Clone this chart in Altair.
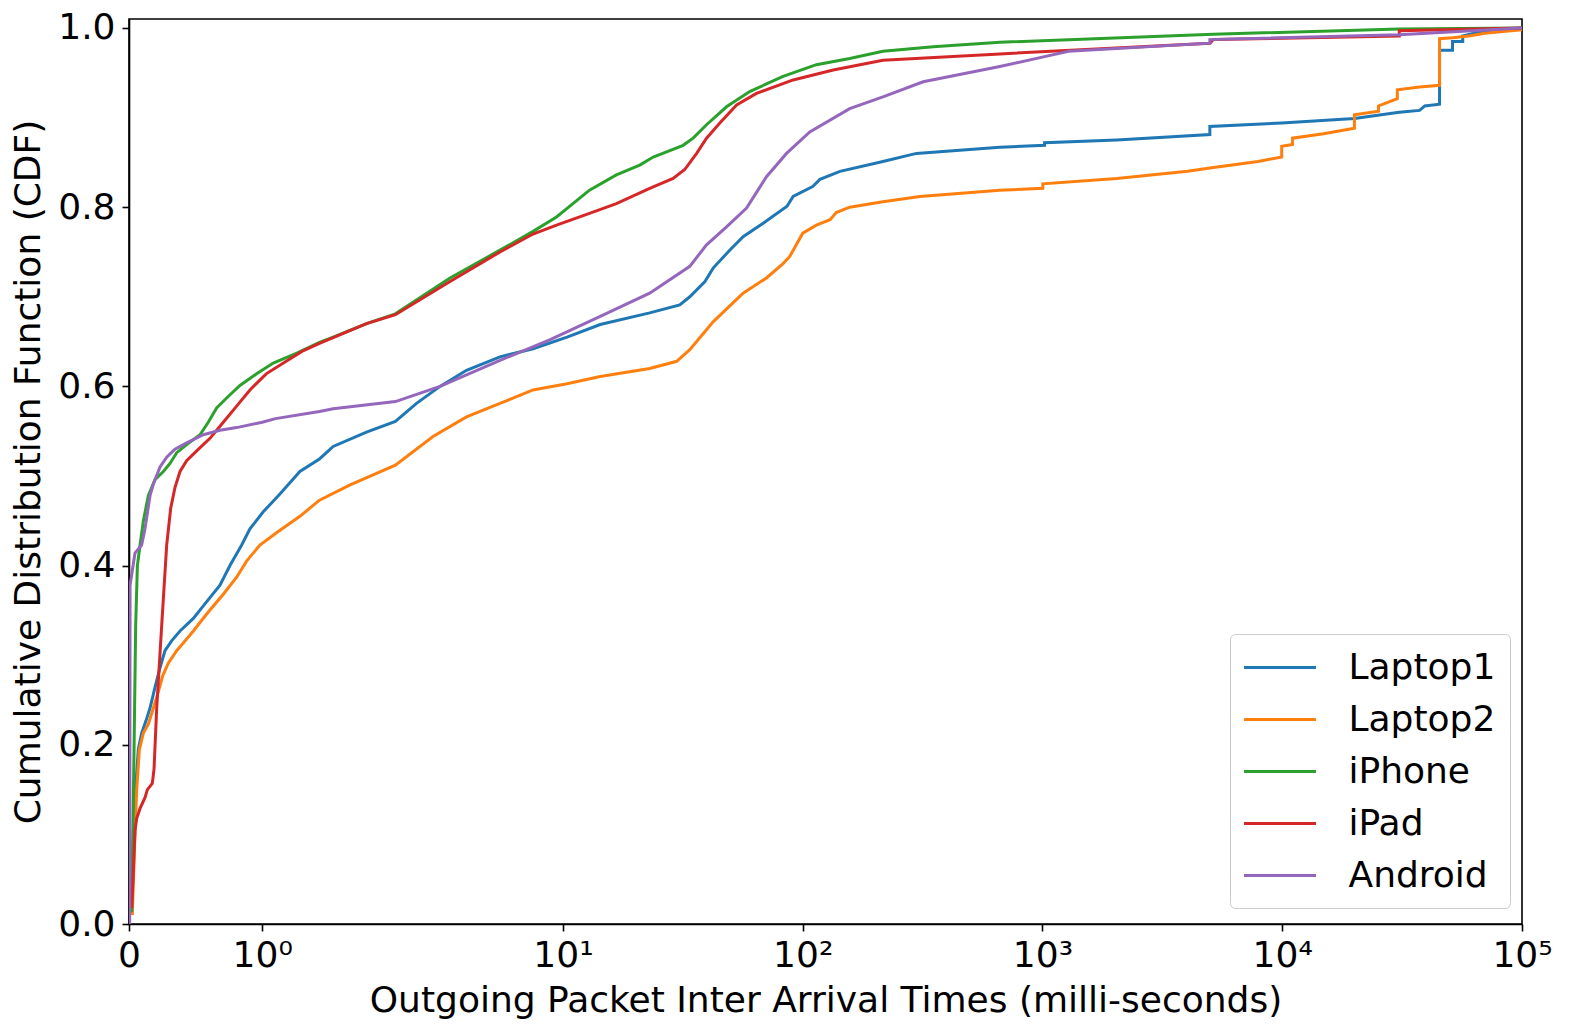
import math
import altair as alt
import pandas as pd

# ---------------- data ----------------
series_names = ["Laptop1", "Laptop2", "iPhone", "iPad", "Android"]
series_colors = ["#1f77b4", "#ff7f0e", "#2ca02c", "#d62728", "#9467bd"]

laptop1_x = [0.02, 0.033, 0.053, 0.07, 0.095, 0.128, 0.158, 0.195, 0.233, 0.27,
             0.32, 0.383, 0.483, 0.558, 0.683, 0.758, 0.846, 0.908, 1.008, 1.133,
             1.283, 1.43, 1.533, 1.783, 2.0, 2.45, 3.07, 3.96, 5.46, 7.5,
             10.4, 14.3, 23.0, 30.7, 33.8, 39.1, 42.3, 49.6, 56.4, 68.4,
             86.0, 91.2, 110, 118, 143, 216, 298, 664, 1020, 1020,
             2040, 4990, 4990, 9950, 20000, 30760, 37400, 39300, 45300, 45300,
             51300, 51300, 56600, 56600, 67900, 100000]
laptop1_y = [0.013, 0.104, 0.159, 0.195, 0.213, 0.227, 0.241, 0.264, 0.286, 0.305,
             0.316, 0.327, 0.341, 0.355, 0.378, 0.400, 0.423, 0.441, 0.460, 0.480,
             0.505, 0.519, 0.533, 0.549, 0.561, 0.581, 0.600, 0.618, 0.633, 0.642,
             0.655, 0.669, 0.682, 0.691, 0.700, 0.717, 0.732, 0.752, 0.767, 0.782,
             0.801, 0.812, 0.823, 0.831, 0.840, 0.851, 0.860, 0.867, 0.869, 0.872,
             0.875, 0.881, 0.890, 0.894, 0.899, 0.906, 0.908, 0.913, 0.915, 0.975,
             0.975, 0.985, 0.985, 0.991, 0.996, 1.0]

laptop2_x = [0.025, 0.04, 0.058, 0.078, 0.108, 0.145, 0.183, 0.22, 0.253, 0.295,
             0.358, 0.433, 0.483, 0.583, 0.708, 0.808, 0.883, 0.983, 1.11, 1.283,
             1.43, 1.66, 2.0, 2.87, 3.96, 5.46, 7.5, 10.4, 14.3, 23.0,
             29.8, 33.8, 42.3, 56.4, 70.6, 82.8, 88.3, 100, 114, 130,
             138, 157, 216, 308, 664, 1003, 1003, 2040, 4030, 5070,
             7930, 9950, 9950, 11040, 11040, 14860, 20000, 20000, 25200, 25200,
             30200, 30200, 37400, 45300, 45300, 51300, 60000, 70000, 100000]
laptop2_y = [0.010, 0.080, 0.150, 0.195, 0.213, 0.223, 0.241, 0.259, 0.277, 0.291,
             0.305, 0.318, 0.327, 0.346, 0.368, 0.387, 0.405, 0.423, 0.437, 0.455,
             0.473, 0.490, 0.512, 0.544, 0.566, 0.581, 0.596, 0.603, 0.611, 0.620,
             0.628, 0.641, 0.672, 0.704, 0.721, 0.737, 0.745, 0.771, 0.780, 0.786,
             0.794, 0.800, 0.806, 0.812, 0.819, 0.821, 0.826, 0.832, 0.840, 0.844,
             0.851, 0.856, 0.868, 0.870, 0.877, 0.882, 0.888, 0.903, 0.907, 0.913,
             0.921, 0.931, 0.934, 0.936, 0.988, 0.989, 0.991, 0.994, 0.998]

iphone_x = [0.02, 0.038, 0.05, 0.063, 0.083, 0.108, 0.145, 0.195, 0.258, 0.308,
            0.358, 0.433, 0.533, 0.595, 0.658, 0.733, 0.833, 0.958, 1.083, 1.26,
            1.43, 1.533, 1.783, 2.0, 3.38, 5.46, 7.5, 9.4, 12.9, 16.7,
            20.9, 23.8, 31.7, 34.9, 39.7, 48.1, 60.1, 82.8, 114, 157,
            216, 350, 664, 5152, 30760, 100000]
iphone_y = [0.013, 0.195, 0.332, 0.400, 0.423, 0.450, 0.478, 0.496, 0.505, 0.514,
            0.526, 0.535, 0.546, 0.560, 0.576, 0.587, 0.601, 0.614, 0.626, 0.637,
            0.649, 0.655, 0.670, 0.681, 0.721, 0.752, 0.773, 0.789, 0.819, 0.836,
            0.847, 0.856, 0.869, 0.877, 0.892, 0.912, 0.929, 0.946, 0.959, 0.966,
            0.974, 0.979, 0.984, 0.993, 0.9988, 1.0]

ipad_x = [0.02, 0.033, 0.045, 0.058, 0.083, 0.12, 0.138, 0.175, 0.188, 0.208,
          0.245, 0.283, 0.313, 0.345, 0.383, 0.433, 0.508, 0.608, 0.708, 0.808,
          0.908, 1.03, 1.18, 1.31, 1.43, 1.783, 2.0, 3.38, 5.46, 7.5,
          9.4, 12.9, 16.7, 23.0, 28.8, 32.2, 36.1, 39.7, 45.1, 53.0,
          64.1, 91.2, 134, 216, 664, 5000, 5152, 30760, 30760, 100000]
ipad_y = [0.018, 0.059, 0.104, 0.118, 0.129, 0.141, 0.150, 0.157, 0.173, 0.241,
          0.332, 0.423, 0.464, 0.487, 0.505, 0.517, 0.528, 0.542, 0.560, 0.578,
          0.596, 0.614, 0.628, 0.640, 0.648, 0.670, 0.680, 0.717, 0.750, 0.770,
          0.780, 0.793, 0.804, 0.821, 0.832, 0.842, 0.860, 0.877, 0.894, 0.914,
          0.927, 0.942, 0.953, 0.964, 0.971, 0.983, 0.987, 0.991, 0.997, 1.0]

android_x = [0.005, 0.008, 0.045, 0.095, 0.12, 0.158, 0.183, 0.233, 0.283, 0.345,
             0.433, 0.558, 0.683, 0.808, 1.0, 1.1, 1.43, 1.533, 2.0, 3.07,
             5.46, 8.8, 14.3, 23.0, 33.8, 39.7, 48.1, 58.3, 70.6, 85.6,
             107, 157, 216, 318, 664, 1020, 1285, 4990, 4990, 30760,
             100000]
android_y = [0.0, 0.378, 0.414, 0.423, 0.441, 0.478, 0.491, 0.510, 0.521, 0.530,
             0.537, 0.546, 0.551, 0.554, 0.560, 0.564, 0.572, 0.575, 0.583, 0.600,
             0.629, 0.652, 0.678, 0.704, 0.734, 0.758, 0.778, 0.799, 0.834, 0.860,
             0.884, 0.910, 0.923, 0.940, 0.957, 0.968, 0.974, 0.983, 0.987, 0.9925,
             1.0]

x_tick_values = [0, 1, 10, 100, 1000, 10000, 100000]
x_tick_labels = ["0", "10⁰", "10¹", "10²", "10³", "10⁴", "10⁵"]
y_tick_values = [0.0, 0.2, 0.4, 0.6, 0.8, 1.0]

# ---------------- symmetric-log axis (linthresh 2, linscale 1) ----------------
LINTHRESH = 2.0
LIN_ADJ = 1.0 / (1.0 - 1.0 / 10.0)


def symlog(v):
    if v <= LINTHRESH:
        return v * LIN_ADJ
    return LINTHRESH * (LIN_ADJ + math.log10(v / LINTHRESH))


symlog_expr = (f"datum.x <= {LINTHRESH} ? datum.x * {LIN_ADJ} : "
               f"{LINTHRESH} * ({LIN_ADJ} + log(datum.x / {LINTHRESH}) / LN10)")

tick_pos = [symlog(v) for v in x_tick_values]
label_expr = " : ".join(
    f"abs(datum.value - {p:.6f}) < 0.001 ? '{lab}'" for p, lab in zip(tick_pos, x_tick_labels)
) + " : ''"

series = [
    (series_names[0], laptop1_x, laptop1_y),
    (series_names[1], laptop2_x, laptop2_y),
    (series_names[2], iphone_x, iphone_y),
    (series_names[3], ipad_x, ipad_y),
    (series_names[4], android_x, android_y),
]
rows = []
for name, xs, ys in series:
    for i, (xv, yv) in enumerate(zip(xs, ys)):
        rows.append({"device": name, "x": xv, "cdf": yv, "i": i})
df = pd.DataFrame(rows)

FONT = "DejaVu Sans"
FS = 36

chart = alt.Chart(df).transform_calculate(
    xt=symlog_expr
).mark_line(strokeWidth=3, clip=True).encode(
    x=alt.X("xt:Q",
            scale=alt.Scale(domain=[0, symlog(100000)], nice=False, zero=False),
            axis=alt.Axis(values=tick_pos, labelExpr=label_expr,
                          title="Outgoing Packet Inter Arrival Times (milli-seconds)",
                          titlePadding=10)),
    y=alt.Y("cdf:Q",
            scale=alt.Scale(domain=[0, 1.01], nice=False),
            axis=alt.Axis(values=y_tick_values, format=".1f",
                          title="Cumulative Distribution Function (CDF)",
                          titlePadding=10)),
    color=alt.Color("device:N",
                    scale=alt.Scale(domain=series_names, range=series_colors),
                    sort=series_names,
                    legend=alt.Legend(title=None, orient="none", legendX=1101, legendY=615,
                                      symbolType="M-2,0L2,0", symbolSize=1296,
                                      symbolStrokeWidth=3, symbolOffset=16.5,
                                      labelFontSize=FS, labelFont=FONT, labelColor="black",
                                      labelOffset=49, rowPadding=14, padding=14,
                                      strokeColor="#cccccc", cornerRadius=5,
                                      fillColor="white")),
    order=alt.Order("i:Q"),
).properties(
    width=1393, height=905,
    autosize=alt.AutoSizeParams(type="none"),
    padding={"left": 121, "top": 11, "right": 40, "bottom": 100},
).configure_view(
    stroke="black", strokeWidth=1.6
).configure_axis(
    grid=False, domainColor="black", domainWidth=1.6, tickColor="black",
    tickWidth=1.6, tickSize=7, labelPadding=7, labelFont=FONT, labelFontSize=FS,
    labelColor="black", titleFont=FONT, titleFontSize=FS, titleFontWeight="normal",
    titleColor="black", labelFlush=False, labelOverlap=False
)

chart.save("out.html", embed_options={"renderer": "svg", "actions": False})
